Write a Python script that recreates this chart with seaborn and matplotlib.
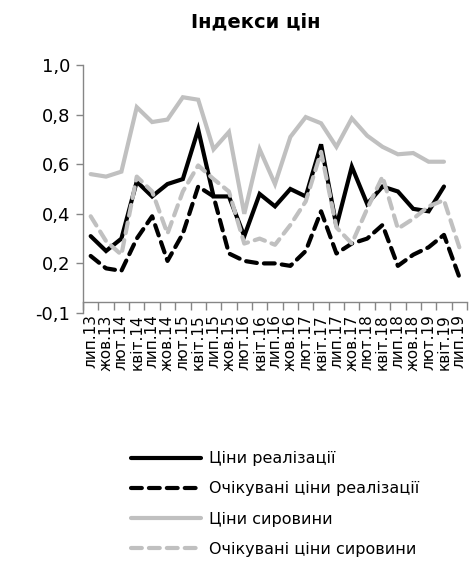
import numpy as np
import pandas as pd
import matplotlib
matplotlib.use("Agg")
import matplotlib.pyplot as plt
import seaborn as sns

# квартальні мітки
quarters = ["лип.13", "жов.13", "лют.14", "квіт.14", "лип.14", "жов.14", "лют.15", "квіт.15",
            "лип.15", "жов.15", "лют.16", "квіт.16", "лип.16", "жов.16", "лют.17", "квіт.17",
            "лип.17", "жов.17", "лют.18", "квіт.18", "лип.18", "жов.18", "лют.19", "квіт.19",
            "лип.19"]

sales_prices = [0.31, 0.25, 0.30, 0.53, 0.47, 0.52, 0.54, 0.74, 0.47, 0.47, 0.31, 0.48, 0.43,
                0.50, 0.47, 0.68, 0.35, 0.59, 0.44, 0.51, 0.49, 0.42, 0.41, 0.51, np.nan]
sales_expected = [0.23, 0.18, 0.17, 0.30, 0.39, 0.21, 0.32, 0.51, 0.47, 0.24, 0.21, 0.20, 0.20,
                  0.19, 0.25, 0.41, 0.24, 0.28, 0.30, 0.355, 0.19, 0.235, 0.265, 0.315, 0.145]
raw_prices = [0.56, 0.55, 0.57, 0.83, 0.77, 0.78, 0.87, 0.86, 0.66, 0.73, 0.40, 0.66, 0.52,
              0.71, 0.79, 0.765, 0.67, 0.785, 0.715, 0.67, 0.64, 0.645, 0.61, 0.61, np.nan]
raw_expected = [0.39, 0.29, 0.235, 0.55, 0.49, 0.32, 0.49, 0.595, 0.54, 0.49, 0.28, 0.30, 0.275,
                0.355, 0.45, 0.65, 0.345, 0.28, 0.42, 0.55, 0.34, 0.38, 0.43, 0.455, 0.265]

series_names = ["Ціни реалізації", "Очікувані ціни реалізації",
                "Ціни сировини", "Очікувані ціни сировини"]
y_ticks = [0.0, 0.2, 0.4, 0.6, 0.8, 1.0]
y_labels = ["-0,1", "0,2", "0,4", "0,6", "0,8", "1,0"]

sns.set_theme(style="white")
plt.rcParams['font.family'] = ['DejaVu Sans']
plt.rcParams['text.color'] = 'black'
plt.rcParams['xtick.labelcolor'] = 'black'
plt.rcParams['ytick.labelcolor'] = 'black'

fig = plt.figure(figsize=(4.77, 5.62), dpi=100)
ax = fig.add_axes([83 / 477, 1 - 313 / 562, 384 / 477, 248 / 562])

x = np.arange(len(quarters))
styles = [
    (sales_prices, "#000000", ""),
    (sales_expected, "#000000", (2.6, 1.7)),
    (raw_prices, "#c0c0c0", ""),
    (raw_expected, "#c0c0c0", (2.6, 1.7)),
]
for (vals, color, dash), name in zip(styles, series_names):
    df = pd.DataFrame({"x": x, "y": vals}).dropna()
    line_ax = sns.lineplot(data=df, x="x", y="y", ax=ax, color=color, linewidth=3.0,
                           label=name, sort=False)
    ln = line_ax.get_lines()[-1]
    if dash:
        ln.set_dashes(dash)
        ln.set_dash_capstyle("round")
    ln.set_solid_joinstyle("miter")

# вісь X перетинає трохи вище нижньої межі (як у джерелі)
for s in ["top", "right"]:
    ax.spines[s].set_visible(False)
for s in ["left", "bottom"]:
    ax.spines[s].set_color("#868686")
    ax.spines[s].set_linewidth(1)
ax.spines["bottom"].set_position(("data", 0.045))

ax.set_xlim(-0.5, len(quarters) - 0.5)
ax.set_ylim(0, 1.0)
ax.set_xlabel("")
ax.set_ylabel("")

ax.set_yticks(y_ticks)
ax.set_yticklabels(y_labels, fontsize=13)
ax.tick_params(axis="y", which="major", left=True, length=5, width=1, color="#868686",
               direction="out", pad=4, labelcolor="black")

ax.set_xticks(x)
ax.set_xticklabels(quarters, fontsize=11)
ax.set_xticks(np.arange(-0.5, len(quarters), 1), minor=True)
ax.tick_params(axis="x", which="major", bottom=True, length=0, pad=9, labelrotation=90,
               labelcolor="black")
ax.tick_params(axis="x", which="minor", bottom=True, length=6, width=1,
               color="#868686", direction="out")

fig.text(256 / 477, 1 - 22 / 562, "Індекси цін", ha="center", va="center",
         fontsize=14, fontweight="bold", color="black")

handles, labels = ax.get_legend_handles_labels()
ax.get_legend().remove()
leg = fig.legend(handles, labels, loc="center", bbox_to_anchor=(275 / 477, 1 - 504 / 562),
                 frameon=False, fontsize=11.5, handlelength=4.4, handletextpad=0.5,
                 labelspacing=0.95)
for t in leg.get_texts():
    t.set_color("black")

fig.savefig("out.png", dpi=100)
plt.close(fig)
